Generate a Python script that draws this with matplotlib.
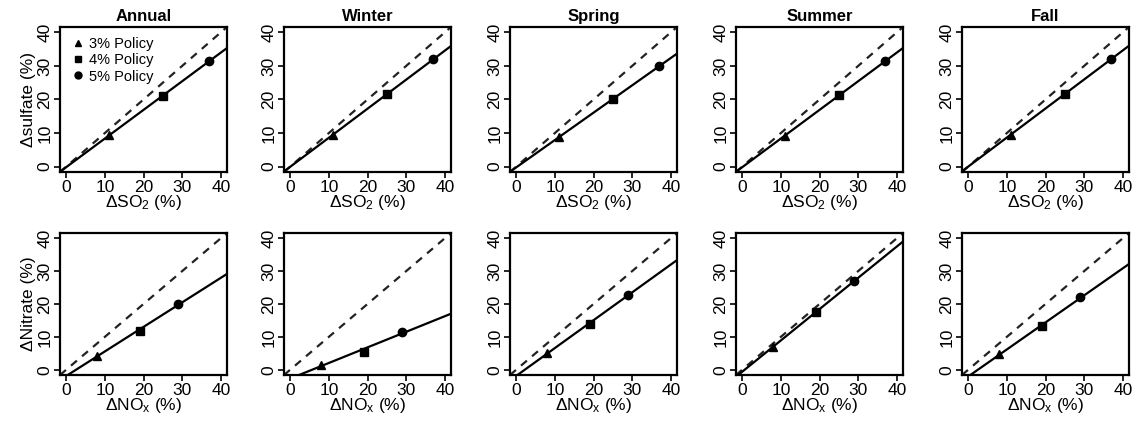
import numpy as np
import matplotlib
matplotlib.use("Agg")
import matplotlib.pyplot as plt
from matplotlib.lines import Line2D

plt.rcParams['font.family'] = ['Liberation Sans', 'DejaVu Sans']
plt.rcParams['mathtext.fontset'] = 'custom'
plt.rcParams['mathtext.rm'] = 'Liberation Sans'
plt.rcParams['mathtext.it'] = 'Liberation Sans'

seasons = ["Annual", "Winter", "Spring", "Summer", "Fall"]
policies = ["3% Policy", "4% Policy", "5% Policy"]
markers = ["^", "s", "o"]

# emission reductions for each policy (%)
so2_cut = [11, 25, 37]
nox_cut = [8, 19, 29]

# response in sulfate (%) per season, 3%/4%/5% policy
sulfate = {
    "Annual": [9.3, 21.0, 31.5],
    "Winter": [9.5, 21.5, 32.0],
    "Spring": [8.8, 20.0, 30.0],
    "Summer": [9.2, 21.2, 31.4],
    "Fall":   [9.5, 21.7, 32.0],
}
# response in nitrate (%)
nitrate = {
    "Annual": [4.3, 11.8, 20.0],
    "Winter": [1.5, 5.5, 11.5],
    "Spring": [5.0, 14.0, 22.8],
    "Summer": [7.0, 17.5, 27.0],
    "Fall":   [4.7, 13.2, 22.0],
}

W, H = 1132, 421
fig = plt.figure(figsize=(W / 100, H / 100), dpi=100)

lefts = [60, 284, 510, 736, 962]
box_w = 167
rows = [(27, 172), (233, 375)]


def panel(ax, x, y, xlab):
    ax.axline((0, 0), slope=1, color="#222222", lw=1.6, ls=(0, (3.5, 3)))
    m, b = np.polyfit(x, y, 1)
    ax.axline((0, b), slope=m, color="black", lw=1.6)
    for xi, yi, mk in zip(x, y, markers):
        ax.plot(xi, yi, marker=mk, color="black", ms=6, ls="none")
    ax.set_xlim(-1.6, 41.6)
    ax.set_ylim(-1.6, 41.6)
    ax.set_xticks([0, 10, 20, 30, 40])
    ax.set_yticks([0, 10, 20, 30, 40])
    ax.tick_params(direction="out", length=4, width=1.2, labelsize=12.5, pad=1.5)
    for lab in ax.get_yticklabels():
        lab.set_rotation(90)
        lab.set_va("center")
    for s in ax.spines.values():
        s.set_linewidth(1.6)
    ax.set_xlabel(xlab, fontsize=12.5, labelpad=-1)


for j, season in enumerate(seasons):
    for i, (top, bot) in enumerate(rows):
        ax = fig.add_axes([lefts[j] / W, (H - bot) / H, box_w / W, (bot - top) / H])
        if i == 0:
            panel(ax, so2_cut, sulfate[season], r"ΔSO$_2$ (%)")
            ax.set_title(season, fontsize=12, fontweight="bold", pad=4)
            if j == 0:
                ax.set_ylabel("Δsulfate (%)", fontsize=12.5, labelpad=1)
                handles = [Line2D([], [], marker=mk, color="black", ls="none", ms=5)
                           for mk in markers]
                ax.legend(handles, policies, loc="upper left", frameon=False,
                          fontsize=10.5, handletextpad=0.3, borderaxespad=0.3,
                          labelspacing=0.15, handlelength=1.0)
        else:
            panel(ax, nox_cut, nitrate[season], r"ΔNO$_x$ (%)")
            if j == 0:
                ax.set_ylabel("ΔNitrate (%)", fontsize=12.5, labelpad=1)

fig.savefig("out.png", dpi=100)
